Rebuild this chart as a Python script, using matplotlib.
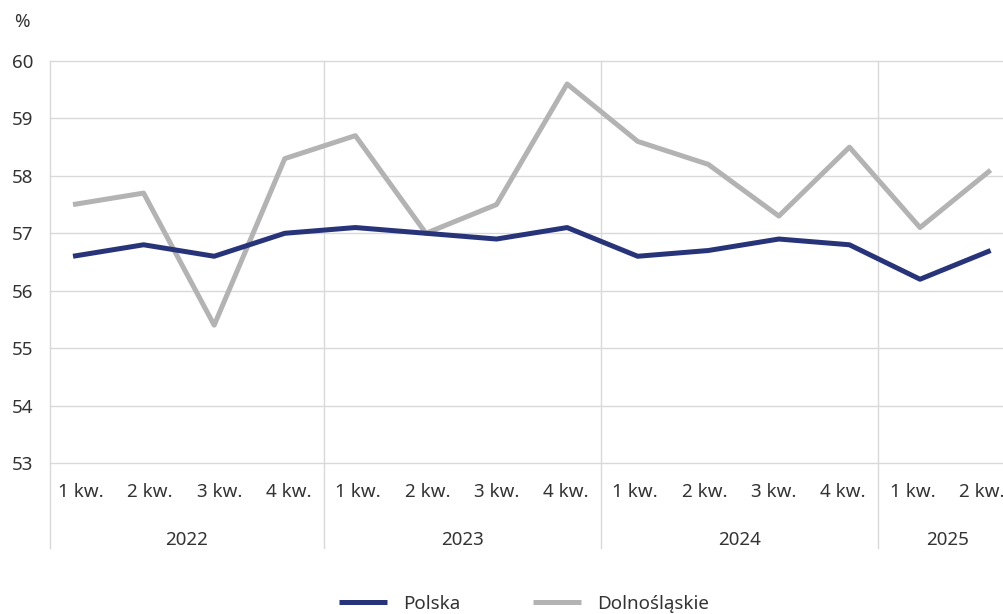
import matplotlib
matplotlib.use('Agg')
import matplotlib.pyplot as plt
import matplotlib.transforms as mtransforms

plt.rcParams['font.family'] = ['Noto Sans', 'DejaVu Sans']

quarters = ['1 kw.', '2 kw.', '3 kw.', '4 kw.'] * 3 + ['1 kw.', '2 kw.']
years = ['2022', '2023', '2024', '2025']
year_counts = [4, 4, 4, 2]
polska = [56.6, 56.8, 56.6, 57.0, 57.1, 57.0, 56.9, 57.1, 56.6, 56.7, 56.9, 56.8, 56.2, 56.7]
dolnoslaskie = [57.5, 57.7, 55.4, 58.3, 58.7, 57.0, 57.5, 59.6, 58.6, 58.2, 57.3, 58.5, 57.1, 58.1]

W, H = 1004, 614
fs = 13.5
fig = plt.figure(figsize=(W / 100, H / 100), dpi=100)
# plot area runs up to the right edge, last label is cut like in the original
ax = fig.add_axes([50 / W, 1 - 463 / H, 954 / W, 402 / H])

grid_c = '#d9d9d9'
text_c = '#333333'
n = len(quarters)
x_left = -0.447

# category axis (labels / separators)
ax.set_xlim(x_left, 13.32)
ax.set_ylim(53, 60)
ax.set_yticks(range(53, 61))
for v in range(53, 61):
    ax.axhline(v, color=grid_c, lw=1, clip_on=False, zorder=1)
for s in ax.spines.values():
    s.set_visible(False)
ax.tick_params(axis='y', length=0, pad=12, labelsize=fs, labelcolor=text_c)
ax.set_xticks([])

# the lines sit on a slightly wider spacing than the labels in the original
ax2 = ax.twiny()
ax2.set_xlim(-0.326, 13.19)
ax2.set_ylim(53, 60)
ax2.set_xticks([])
for s in ax2.spines.values():
    s.set_visible(False)
ax2.plot(range(n), dolnoslaskie, color='#b3b3b3', lw=3.6, label='Dolnośląskie',
         zorder=3, solid_capstyle='butt')
ax2.plot(range(n), polska, color='#283479', lw=3.6, label='Polska',
         zorder=4, solid_capstyle='butt')

# separators: left edge and between years, extended into label area
ymin = -(548 - 463) / 402
bounds = [x_left]
pos = -0.5
for cnt in year_counts:
    pos += cnt
    bounds.append(pos)
for b in bounds[:-1]:
    ax.axvline(b, ymin=ymin, ymax=1, color=grid_c, lw=1, clip_on=False, zorder=1)

trans = mtransforms.blended_transform_factory(ax.transData, fig.transFigure)
for i, q in enumerate(quarters):
    ax.text(i, 1 - 492 / H, q, transform=trans, ha='center', va='center',
            fontsize=fs, color=text_c, clip_on=False)
for k, yr in enumerate(years):
    ax.text((bounds[k] + bounds[k + 1]) / 2, 1 - 540 / H, yr, transform=trans,
            ha='center', va='center', fontsize=fs, color=text_c)

fig.text(22 / W, 1 - 22 / H, '%', ha='center', va='center', fontsize=fs, color=text_c)

h, l = ax2.get_legend_handles_labels()
fig.legend(h[::-1], l[::-1], loc='center', bbox_to_anchor=(524 / W, 1 - 604 / H),
           ncol=2, frameon=False, fontsize=fs, handlelength=2.55, columnspacing=3.9,
           handletextpad=0.85, labelcolor=text_c)

fig.savefig('out.png', dpi=100, facecolor='white')
